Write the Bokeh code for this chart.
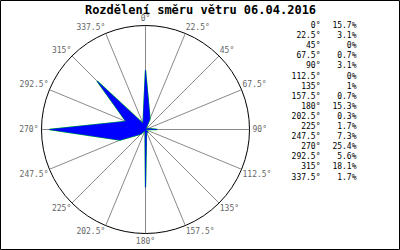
import numpy as np
from bokeh.plotting import figure
from bokeh.models import Range1d
from bokeh.core.properties import value
from bokeh.embed import file_html
from bokeh.resources import INLINE

title_text = "Rozdělení směru větru 06.04.2016"
directions = [0, 22.5, 45, 67.5, 90, 112.5, 135, 157.5, 180, 202.5, 225, 247.5, 270, 292.5, 315, 337.5]
percent = [15.7, 3.1, 0, 0.7, 3.1, 0, 1, 0.7, 15.3, 0.3, 1.7, 7.3, 25.4, 5.6, 18.1, 1.7]
dir_labels = [f"{d:g}°" for d in directions]
pct_labels = [f"{v:g}%" for v in percent]

R = 104.0          # pixel radius of the rose circle
SCALE_MAX = 27.5   # percent value that would reach the circle
FONT = "DejaVu Sans Mono"

p = figure(width=400, height=250, output_backend="svg", toolbar_location=None,
           x_range=Range1d(-145, 255), y_range=Range1d(-121, 129), min_border=0)
p.axis.visible = False
p.grid.visible = False
p.outline_line_color = "black"
p.outline_line_width = 1
p.background_fill_color = "white"
p.border_fill_color = "white"

th = np.radians(directions)
sx, sy = np.sin(th), np.cos(th)

# spokes
p.segment(x0=0, y0=0, x1=R * sx, y1=R * sy, line_color="#8a8a8a", line_width=1)
# circle
p.circle(x=[0], y=[0], radius=R, fill_color=None, line_color="black", line_width=1)

# data polygon
r = np.array(percent) / SCALE_MAX * R
px, py = r * sx, r * sy
p.line(x=list(px) + [px[0]], y=list(py) + [py[0]], line_color="#00dd00", line_width=1.3)
p.patch(x=px, y=py, fill_color="#0000ff", line_color="#0000ff", line_width=0.6)

# direction labels
lx, ly, al, bl = [], [], [], []
for d, a, b in zip(directions, sx, sy):
    x, y = (R + 1) * a, (R + 1) * b
    if d in (0, 180):
        al.append("center")
        y += 2 if d == 0 else -2
    elif d < 180:
        al.append("left")
    else:
        al.append("right")
    if d in (90, 270):
        bl.append("middle")
        x += 2 if d == 90 else -2
    elif d < 90 or d > 270:
        bl.append("bottom")
    else:
        bl.append("top")
    lx.append(x)
    ly.append(y)
p.text(x=lx, y=ly, text=dir_labels, text_align=al, text_baseline=bl,
       text_font=value(FONT), text_font_size="8px", text_color="#666666")

# title
p.text(x=[55], y=[120], text=[title_text], text_align="center", text_baseline="middle",
       text_font=value(FONT), text_font_size="12px", text_font_style="bold", text_color="black")

# legend list
rows_y = [129 - (25 + 10.1 * i) for i in range(len(directions))]
p.text(x=[175] * len(directions), y=rows_y, text=dir_labels, text_align="right",
       text_baseline="middle", text_font=value(FONT), text_font_size="8px", text_color="black")
p.text(x=[211] * len(directions), y=rows_y, text=pct_labels, text_align="right",
       text_baseline="middle", text_font=value(FONT), text_font_size="8px", text_color="black")

open("out.html", "w").write(file_html(p, INLINE))
